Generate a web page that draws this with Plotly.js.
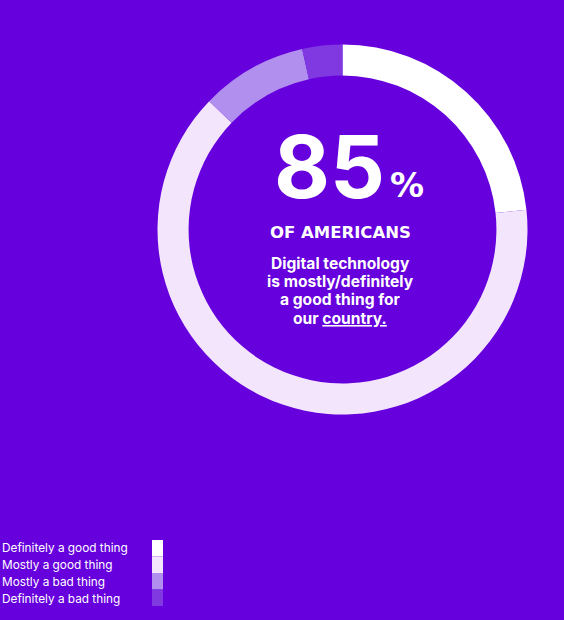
<!DOCTYPE html>
<html>
<head>
<meta charset="utf-8">
<script src="https://cdn.plot.ly/plotly-3.0.1.min.js"></script>
<style>
  html, body { margin: 0; padding: 0; background: #6600DC; }
  #chart { width: 564px; height: 620px; }
</style>
</head>
<body>
<div id="chart"></div>
<script>
// ---- data ----
const categories = ["Definitely a good thing", "Mostly a good thing", "Mostly a bad thing", "Definitely a bad thing"];
const shares = [23.3, 63.9, 9.3, 3.5];
const colors = ["#FFFFFF", "#F2E5FC", "#B18FEE", "#8039E1"];
const headline = "85";
const headlineUnit = "%";
const subhead = "OF AMERICANS";
const bodyLines = ["Digital technology", "is mostly/definitely", "a good thing for", "our <u>country.</u>"];

// ---- layout helpers ----
const W = 564, H = 620;
const px = x => x / W;
const py = y => 1 - y / H;
const cx = 342.5, cy = 229.5, R = 185;
const FONT = "Inter, 'DejaVu Sans', sans-serif";
const WIDE = "'DejaVu Sans', Inter, sans-serif";

const trace = {
  type: "pie",
  labels: categories,
  values: shares,
  marker: { colors: colors, line: { width: 0 } },
  hole: 0.832,
  sort: false,
  direction: "clockwise",
  rotation: 0,
  textinfo: "none",
  hoverinfo: "label+percent",
  showlegend: false,
  domain: { x: [px(cx - R), px(cx + R)], y: [py(cy + R), py(cy - R)] }
};

const annotations = [];
annotations.push({
  xref: "paper", yref: "paper", x: px(329), y: py(167), xanchor: "center", yanchor: "middle",
  text: "<b>" + headline + "</b>", showarrow: false,
  font: { family: FONT, size: 86, color: "#FFFFFF" }
});
annotations.push({
  xref: "paper", yref: "paper", x: px(406.5), y: py(185), xanchor: "center", yanchor: "middle",
  text: "<b>" + headlineUnit + "</b>", showarrow: false,
  font: { family: WIDE, size: 34, color: "#FFFFFF" }
});
annotations.push({
  xref: "paper", yref: "paper", x: px(340), y: py(233), xanchor: "center", yanchor: "middle",
  text: "<b>" + subhead + "</b>", showarrow: false,
  font: { family: WIDE, size: 16.5, color: "#FFFFFF" }
});
bodyLines.forEach((t, i) => {
  annotations.push({
    xref: "paper", yref: "paper", x: px(340), y: py(263 + 18.4 * i), xanchor: "center", yanchor: "middle",
    text: "<b>" + t + "</b>", showarrow: false,
    font: { family: FONT, size: 15.6, color: "#FFFFFF" }
  });
});

const shapes = [];
categories.forEach((c, i) => {
  annotations.push({
    xref: "paper", yref: "paper", x: px(0), y: py(548.3 + 16.8 * i), xanchor: "left", yanchor: "middle",
    text: c, showarrow: false,
    font: { family: FONT, size: 11.8, color: "#FFFFFF" }
  });
  shapes.push({
    type: "rect", xref: "paper", yref: "paper",
    x0: px(152), x1: px(163), y0: py(540 + 16.5 * i), y1: py(540 + 16.5 * (i + 1)),
    fillcolor: colors[i], line: { width: 0 }
  });
});

const layout = {
  width: W, height: H,
  margin: { l: 0, r: 0, t: 0, b: 0 },
  paper_bgcolor: "#6600DC",
  plot_bgcolor: "#6600DC",
  annotations: annotations,
  shapes: shapes
};

Plotly.newPlot("chart", [trace], layout, { displayModeBar: false, staticPlot: true });
</script>
</body>
</html>
